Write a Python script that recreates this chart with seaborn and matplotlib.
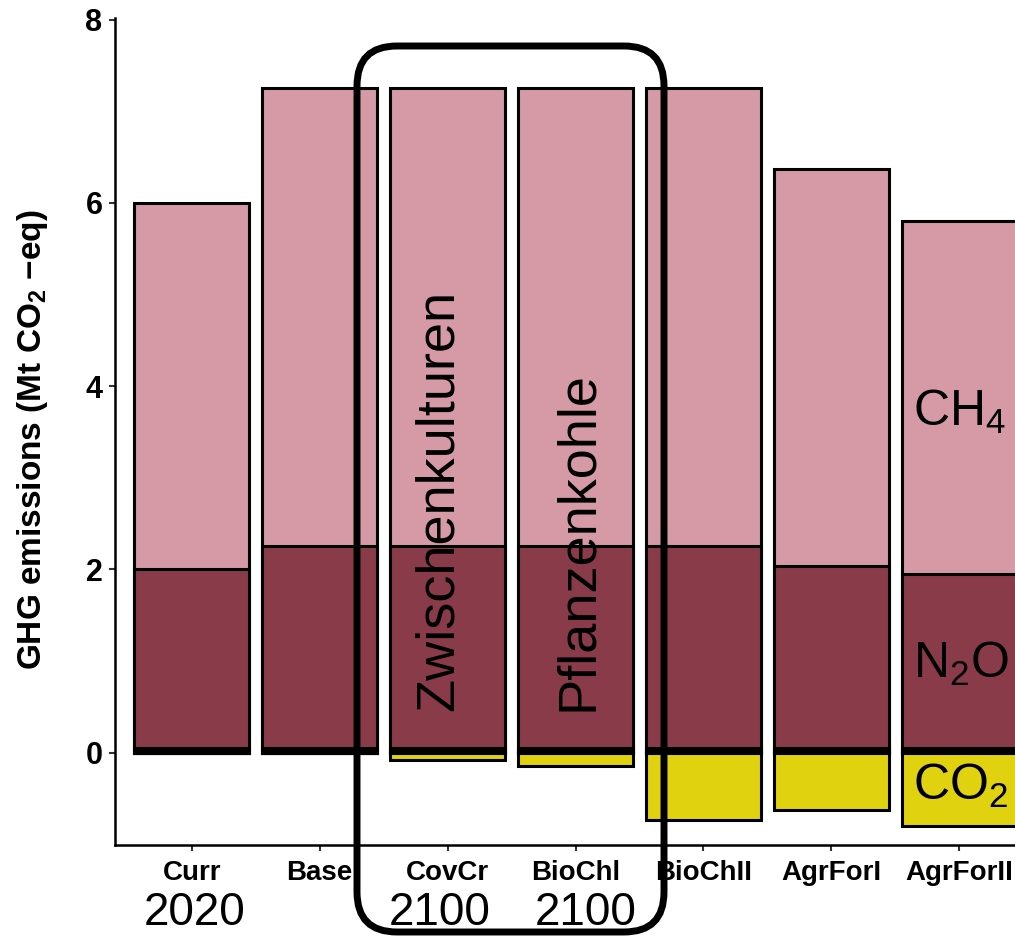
import numpy as np
import pandas as pd
import matplotlib
matplotlib.use("Agg")
import matplotlib.pyplot as plt
import seaborn as sns
from matplotlib.patches import FancyBboxPatch
from matplotlib.transforms import IdentityTransform

# Scenario names and emission parts (Mt CO2-eq)
scenarios = ["Curr", "Base", "CovCr", "BioChl", "BioChII", "AgrForI", "AgrForII"]
co2_pos = [0.05, 0.05, 0.05, 0.05, 0.05, 0.05, 0.05]
n2o = [1.95, 2.21, 2.21, 2.21, 2.21, 1.99, 1.90]
ch4 = [4.00, 5.00, 5.00, 5.00, 5.00, 4.33, 3.85]
co2_neg = [0.0, 0.0, -0.08, -0.15, -0.74, -0.63, -0.80]

years = ["2020", "2100", "2100"]
year_pos = [0.02, 1.94, 3.08]

col_ch4 = "#D59AA5"
col_n2o = "#8A3B4A"
col_co2 = "#E0D20E"

# cumulative heights for the layered bars
df = pd.DataFrame({"scenario": scenarios, "co2_pos": co2_pos, "n2o": n2o,
                   "ch4": ch4, "co2_neg": co2_neg})
df["n2o_top"] = df["co2_pos"] + df["n2o"]
df["total"] = df["n2o_top"] + df["ch4"]

sns.set_style("ticks")
plt.rcParams["font.family"] = ["Liberation Sans", "DejaVu Sans"]
plt.rcParams["mathtext.fontset"] = "custom"
plt.rcParams["mathtext.rm"] = "Liberation Sans"
plt.rcParams["mathtext.default"] = "regular"
plt.rcParams["text.color"] = "black"
plt.rcParams["axes.labelcolor"] = "black"
plt.rcParams["axes.edgecolor"] = "black"

fig = plt.figure(figsize=(10.15, 9.38), dpi=100)
ax = fig.add_axes([115 / 1015, 93 / 938, 921 / 1015, 827 / 938])

bar_kw = dict(order=scenarios, width=0.9, saturation=1, edgecolor="black",
              linewidth=2.2, errorbar=None, ax=ax)
sns.barplot(data=df, x="scenario", y="total", color=col_ch4, **bar_kw)
sns.barplot(data=df, x="scenario", y="n2o_top", color=col_n2o, **bar_kw)
sns.barplot(data=df, x="scenario", y="co2_pos", color="black", **bar_kw)
sns.barplot(data=df, x="scenario", y="co2_neg", color=col_co2, **bar_kw)

ax.set_xlim(-0.6, 6.6)
ax.set_ylim(-1.01, 8.02)
ax.set_yticks([0, 2, 4, 6, 8])
ax.set_xlabel("")
ax.set_ylabel("GHG emissions (Mt CO$_2$ −eq)", fontsize=24, fontweight="bold")
ax.yaxis.set_label_coords(-0.071, 0.49)
sns.despine(ax=ax)
for s in ["left", "bottom"]:
    ax.spines[s].set_linewidth(1.8)
ax.tick_params(axis="both", length=4, width=1.5, color="#333333",
               labelcolor="black")
ax.tick_params(axis="x", pad=7, labelsize=20)
ax.tick_params(axis="y", pad=5, labelsize=22)
for lab in ax.get_xticklabels() + ax.get_yticklabels():
    lab.set_fontweight("bold")

# annotations inside the bars
ax.text(1.93, 0.45, "Zwischenkulturen", rotation=90, ha="center", va="bottom",
        fontsize=39)
ax.text(3.02, 0.45, "Pflanzenkohle", rotation=90, ha="center", va="bottom",
        fontsize=39)
ax.text(5.64, 3.57, "CH$_4$", fontsize=36, va="baseline", clip_on=False)
ax.text(5.64, 0.81, "N$_2$O", fontsize=36, va="baseline", clip_on=False)
ax.text(5.64, -0.52, "CO$_2$", fontsize=36, va="baseline", clip_on=False)

# year labels under the axis
for yr, xp in zip(years, year_pos):
    ax.text(xp, -1.886, yr, fontsize=33, ha="center", va="baseline", clip_on=False)

# rounded frame around the two highlighted scenarios (pixel coords)
frame = FancyBboxPatch((357, 938 - 932), 664 - 357, 932 - 46,
                       boxstyle="round,pad=0,rounding_size=40",
                       fill=False, edgecolor="black", linewidth=5,
                       transform=IdentityTransform(), clip_on=False, zorder=10)
fig.add_artist(frame)

fig.savefig("out.png", dpi=100)
